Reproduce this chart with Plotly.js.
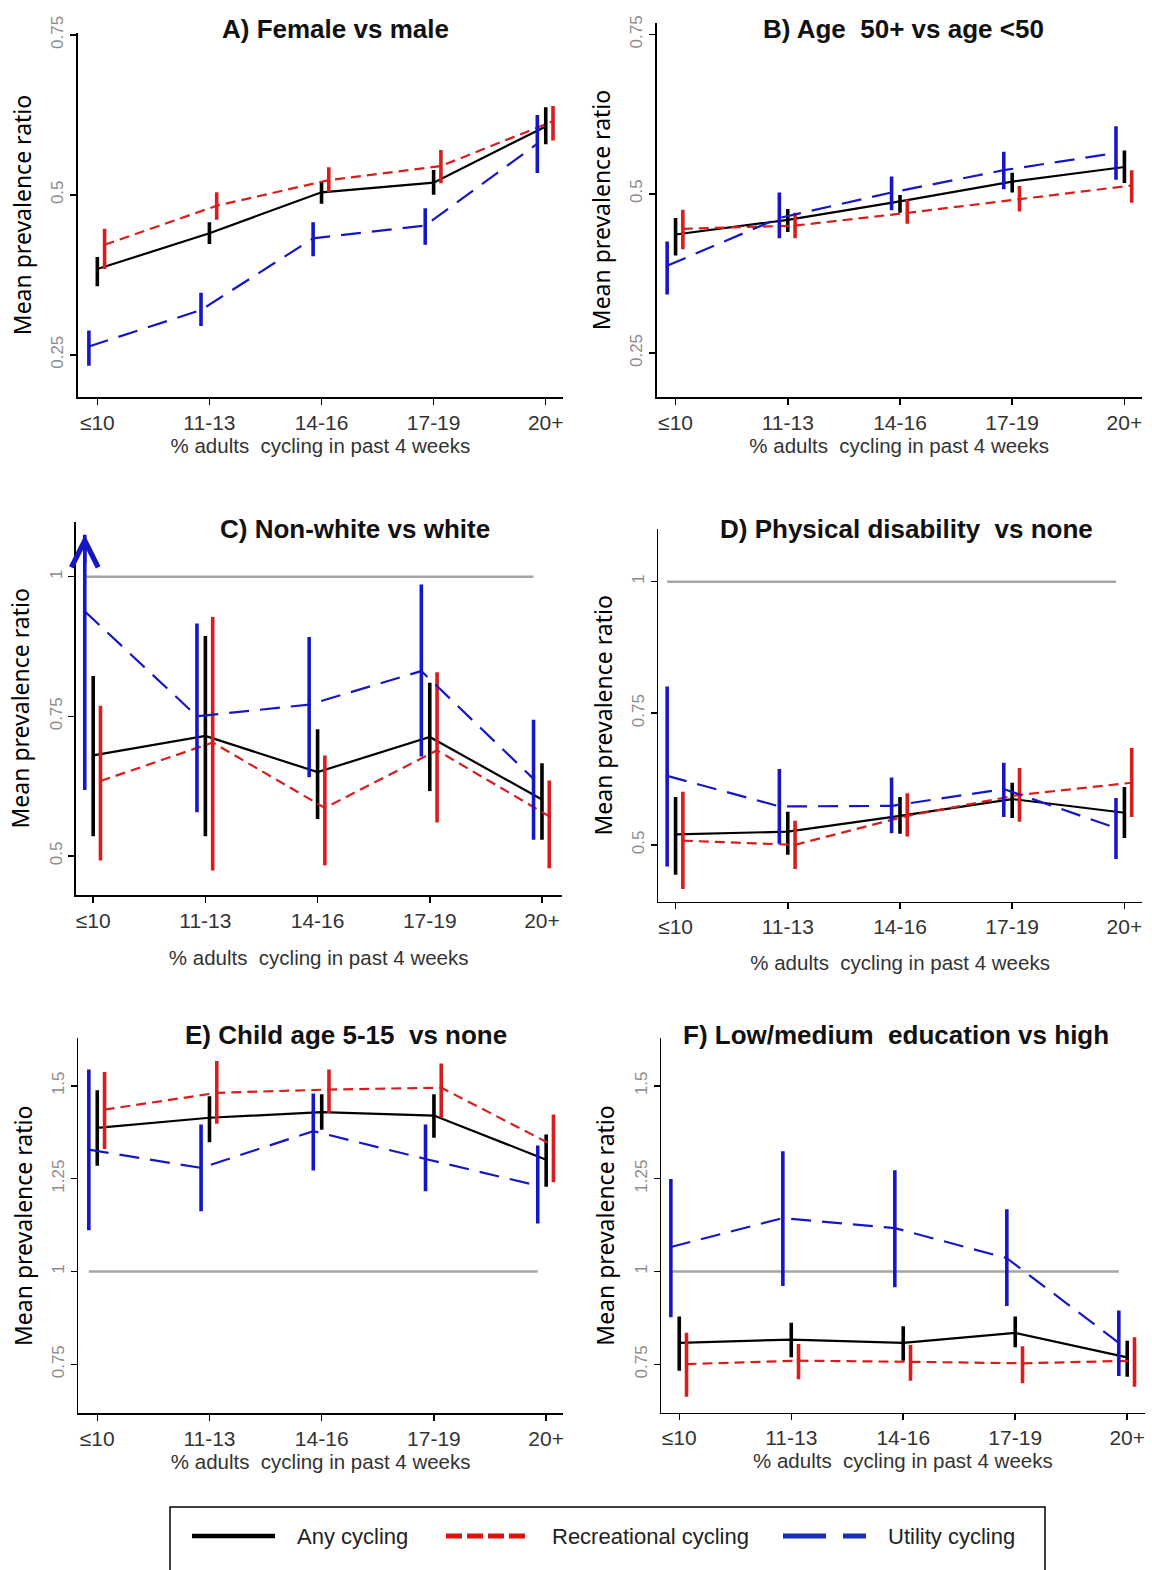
<!DOCTYPE html>
<html><head><meta charset="utf-8">
<script src="https://cdn.plot.ly/plotly-3.0.1.min.js"></script>
<style>body{margin:0;background:#fff}#chart{width:1152px;height:1570px}</style>
</head><body><div id="chart"></div>
<script>
const categories = ['≤10','11-13','14-16','17-19','20+'];
const seriesNames = ['Any cycling','Recreational cycling','Utility cycling'];
const panelTitles = ['A) Female vs male','B) Age  50+ vs age &lt;50','C) Non-white vs white','D) Physical disability  vs none','E) Child age 5-15  vs none','F) Low/medium  education vs high'];
const xAxisTitle = '% adults  cycling in past 4 weeks';
const yAxisTitle = 'Mean prevalence ratio';
const yTicksAB = [0.25, 0.5, 0.75];
const yTicksCD = [0.5, 0.75, 1];
const yTicksEF = [0.75, 1, 1.25, 1.5];

// Panel A
const A_any = [0.384,0.440,0.504,0.519,0.607];
const A_any_lo = [0.357,0.423,0.486,0.500,0.579];
const A_any_hi = [0.403,0.457,0.521,0.539,0.637];
const A_rec = [0.422,0.483,0.523,0.545,0.615];
const A_rec_lo = [0.384,0.461,0.504,0.518,0.585];
const A_rec_hi = [0.447,0.504,0.543,0.570,0.639];
const A_uti = [0.263,0.320,0.432,0.452,0.580];
const A_uti_lo = [0.233,0.295,0.404,0.422,0.534];
const A_uti_hi = [0.288,0.347,0.457,0.479,0.625];
// Panel B
const B_any = [0.436,0.459,0.488,0.519,0.542];
const B_any_lo = [0.403,0.440,0.470,0.502,0.517];
const B_any_hi = [0.462,0.476,0.498,0.533,0.568];
const B_rec = [0.445,0.450,0.470,0.492,0.513];
const B_rec_lo = [0.413,0.430,0.453,0.472,0.486];
const B_rec_hi = [0.475,0.470,0.491,0.512,0.537];
const B_uti = [0.387,0.462,0.502,0.537,0.564];
const B_uti_lo = [0.342,0.430,0.474,0.507,0.522];
const B_uti_hi = [0.425,0.502,0.527,0.566,0.606];
// Panel C (utility upper CI at <=10 is truncated; arrow drawn)
const C_any = [0.680,0.715,0.650,0.713,0.601];
const C_any_lo = [0.535,0.535,0.566,0.616,0.529];
const C_any_hi = [0.822,0.894,0.727,0.810,0.666];
const C_rec = [0.634,0.703,0.586,0.689,0.571];
const C_rec_lo = [0.492,0.474,0.483,0.560,0.478];
const C_rec_hi = [0.769,0.928,0.680,0.829,0.635];
const C_uti = [0.938,0.750,0.771,0.831,0.638];
const C_uti_lo = [0.618,0.578,0.641,0.678,0.529];
const C_uti_hi = [1.075,0.916,0.892,0.986,0.744];
// Panel D
const D_any = [0.520,0.525,0.555,0.587,0.561];
const D_any_lo = [0.443,0.481,0.521,0.551,0.513];
const D_any_hi = [0.591,0.563,0.591,0.618,0.610];
const D_rec = [0.508,0.500,0.555,0.595,0.618];
const D_rec_lo = [0.416,0.454,0.516,0.544,0.553];
const D_rec_hi = [0.601,0.546,0.598,0.646,0.684];
const D_uti = [0.631,0.573,0.574,0.606,0.532];
const D_uti_lo = [0.459,0.502,0.522,0.553,0.473];
const D_uti_hi = [0.801,0.644,0.628,0.656,0.589];
// Panel E
const E_any = [1.387,1.414,1.429,1.420,1.301];
const E_any_lo = [1.285,1.348,1.382,1.360,1.228];
const E_any_hi = [1.488,1.472,1.477,1.477,1.369];
const E_rec = [1.436,1.481,1.490,1.495,1.339];
const E_rec_lo = [1.330,1.398,1.427,1.414,1.240];
const E_rec_hi = [1.537,1.567,1.544,1.560,1.423];
const E_uti = [1.328,1.279,1.378,1.303,1.231];
const E_uti_lo = [1.111,1.162,1.272,1.216,1.129];
const E_uti_hi = [1.544,1.396,1.479,1.396,1.339];
// Panel F
const F_any = [0.808,0.817,0.808,0.835,0.769];
const F_any_lo = [0.733,0.769,0.760,0.796,0.717];
const F_any_hi = [0.879,0.862,0.853,0.879,0.814];
const F_rec = [0.751,0.760,0.757,0.753,0.760];
const F_rec_lo = [0.663,0.710,0.706,0.699,0.690];
const F_rec_hi = [0.835,0.805,0.802,0.799,0.823];
const F_uti = [1.066,1.144,1.117,1.036,0.808];
const F_uti_lo = [0.877,0.961,0.958,0.907,0.719];
const F_uti_hi = [1.249,1.324,1.273,1.168,0.895];

const refValue = 1;

// ---- styling / layout (not data) ----
const W = 1152, H = 1570;
const FONT = 'Liberation Sans, Arial, sans-serif';
const styles = [
  {color:'#000000', dash:'solid', offset:0},
  {color:'#d91c1c', dash:'10px,6px', offset:0.065},
  {color:'#1616c4', dash:'20px,11px', offset:-0.075}
];
const panels = [
  {series:[[A_any,A_any_lo,A_any_hi],[A_rec,A_rec_lo,A_rec_hi],[A_uti,A_uti_lo,A_uti_hi]], ticks:yTicksAB, ref:false,
   box:{l:77.7,r:563,t:33,b:397}, xr:[-0.175,4.154], yr:[0.184,0.753], title:[335,29], xstand:5},
  {series:[[B_any,B_any_lo,B_any_hi],[B_rec,B_rec_lo,B_rec_hi],[B_uti,B_uti_lo,B_uti_hi]], ticks:yTicksAB, ref:false,
   box:{l:656.6,r:1141.8,t:23,b:397}, xr:[-0.169,4.155], yr:[0.181,0.768], title:[903,29], xstand:5},
  {series:[[C_any,C_any_lo,C_any_hi],[C_rec,C_rec_lo,C_rec_hi],[C_uti,C_uti_lo,C_uti_hi]], ticks:yTicksCD, ref:true,
   box:{l:75.8,r:561.6,t:521.7,b:895}, xr:[-0.155,4.175], yr:[0.430,1.0985], title:[355,529], xstand:20},
  {series:[[D_any,D_any_lo,D_any_hi],[D_rec,D_rec_lo,D_rec_hi],[D_uti,D_uti_lo,D_uti_hi]], ticks:yTicksCD, ref:true,
   box:{l:658.4,r:1141.8,t:529,b:901.7}, xr:[-0.153,4.155], yr:[0.392,1.100], title:[906,529], xstand:18},
  {series:[[E_any,E_any_lo,E_any_hi],[E_rec,E_rec_lo,E_rec_hi],[E_uti,E_uti_lo,E_uti_hi]], ticks:yTicksEF, ref:true,
   box:{l:78.4,r:563,t:1038.3,b:1413.3}, xr:[-0.168,4.150], yr:[0.618,1.628], title:[346,1035], xstand:4},
  {series:[[F_any,F_any_lo,F_any_hi],[F_rec,F_rec_lo,F_rec_hi],[F_uti,F_uti_lo,F_uti_hi]], ticks:yTicksEF, ref:true,
   box:{l:661,r:1144.8,t:1038.3,b:1412.7}, xr:[-0.163,4.157], yr:[0.620,1.628], title:[896,1035], xstand:4}
];

const traces = [];
const layout = {
  width: W, height: H, margin:{l:0,r:0,t:0,b:0},
  paper_bgcolor:'#ffffff', plot_bgcolor:'#ffffff',
  showlegend:false, font:{family:FONT},
  shapes:[], annotations:[]
};
const idx = categories.map((c,i)=>i);

panels.forEach((p, k) => {
  const n = k + 1;
  const xa = n === 1 ? 'x' : 'x' + n;
  const ya = n === 1 ? 'y' : 'y' + n;
  if (p.ref) {
    layout.shapes.push({type:'line', xref:xa, yref:ya,
      x0: styles[2].offset, x1: categories.length - 1 + styles[2].offset, y0: refValue, y1: refValue,
      line:{color:'#a6a6a6', width:2.5}, layer:'below'});
  }
  p.series.forEach((s, j) => {
    const [v, lo, hi] = s;
    const st = styles[j];
    traces.push({
      type:'scatter', mode:'lines', name: seriesNames[j],
      x: idx.map(i => i + st.offset), y: v,
      xaxis: xa, yaxis: ya,
      line:{color: st.color, width: 2.2, dash: st.dash},
      error_y:{type:'data', symmetric:false,
        array: v.map((val,i)=> hi[i]-val), arrayminus: v.map((val,i)=> val-lo[i]),
        color: st.color, thickness: 3.6, width: 0},
      hoverinfo:'skip'
    });
  });
  const b = p.box;
  layout['xaxis' + (n===1?'':n)] = {
    domain:[b.l/W, b.r/W], range:p.xr, anchor: ya,
    tickmode:'array', tickvals: idx, ticktext: categories,
    showline:true, linecolor:'#000', linewidth:1.5, mirror:false,
    ticks:'outside', ticklen:6, tickwidth:1.5, tickcolor:'#000',
    showgrid:false, zeroline:false, fixedrange:true,
    tickfont:{family:FONT, size:21, color:'#333333'},
    title:{text:xAxisTitle, font:{family:FONT, size:20.5, color:'#333333'}, standoff:p.xstand}
  };
  layout['yaxis' + (n===1?'':n)] = {
    domain:[1 - b.b/H, 1 - b.t/H], range:p.yr, anchor: xa,
    tickmode:'array', tickvals: p.ticks, tickangle:-90,
    showline:true, linecolor:'#000', linewidth:1.5,
    ticks:'outside', ticklen:6, tickwidth:1.5, tickcolor:'#000',
    showgrid:false, zeroline:false, fixedrange:true,
    tickfont:{family:FONT, size:17, color:'#8c8c8c'},
    title:{text:yAxisTitle, font:{family:'Noto Sans, sans-serif', size:23, color:'#000'}, standoff:10}
  };
  layout.annotations.push({
    xref:'paper', yref:'paper', x:p.title[0]/W, y:1 - p.title[1]/H,
    xanchor:'center', yanchor:'middle', showarrow:false, text:panelTitles[k],
    font:{family:FONT, size:26, color:'#111', weight:'bold'}
  });
});

// truncated upper CI arrow (panel C, utility, <=10)
layout.annotations.push({
  xref:'x3', yref:'y3', x: 0 + styles[2].offset, y: C_uti_hi[0],
  ax:0, ay:30, text:'', showarrow:true, arrowhead:5, arrowsize:1.5, arrowwidth:3.5,
  arrowcolor: styles[2].color, standoff:0
});

// manual legend
const ly = 1 - 1536/H;
layout.shapes.push({type:'rect', xref:'paper', yref:'paper', x0:170/W, x1:1045/W, y0:1 - 1575/H, y1:1 - 1507/H,
  line:{color:'#000', width:1.5}, fillcolor:'rgba(0,0,0,0)'});
layout.shapes.push({type:'line', xref:'paper', yref:'paper', x0:192/W, x1:275/W, y0:ly, y1:ly, line:{color:styles[0].color, width:4.5}});
layout.shapes.push({type:'line', xref:'paper', yref:'paper', x0:446/W, x1:526/W, y0:ly, y1:ly, line:{color:'#e01010', width:5, dash:'16px,5px'}});
layout.shapes.push({type:'line', xref:'paper', yref:'paper', x0:783/W, x1:866/W, y0:ly, y1:ly, line:{color:'#1a2fb8', width:5, dash:'43px,17px'}});
[[seriesNames[0],295],[seriesNames[1],550],[seriesNames[2],886]].forEach(([t,x])=>{
  layout.annotations.push({xref:'paper', yref:'paper', x:x/W, y:ly, xanchor:'left', yanchor:'middle',
    showarrow:false, text:t, font:{family:FONT, size:22, color:'#222'}});
});

Plotly.newPlot('chart', traces, layout, {displayModeBar:false, staticPlot:true});
</script>
</body></html>
